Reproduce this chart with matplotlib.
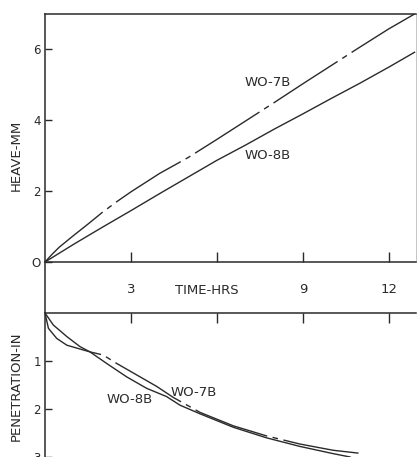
import matplotlib.pyplot as plt
from matplotlib.lines import Line2D

# Heave vs time (top panel)
heave_hours_7b = [0, 0.25, 0.5, 1, 1.5, 2, 2.5, 3, 4, 5, 6, 7, 8, 9, 10, 11, 12, 12.9]
heave_7b = [0, 0.22, 0.42, 0.75, 1.07, 1.4, 1.7, 1.98, 2.5, 2.95, 3.46, 3.98, 4.5, 5.03, 5.55, 6.07, 6.58, 7.0]
heave_hours_8b = [0, 0.5, 1, 2, 3, 4, 5, 6, 7, 8, 9, 10, 11, 12, 12.9]
heave_8b = [0, 0.25, 0.5, 0.98, 1.45, 1.93, 2.4, 2.87, 3.3, 3.75, 4.18, 4.62, 5.05, 5.5, 5.92]

# Penetration vs time (bottom panel)
pen_hours_7b = [0, 0.12, 0.41, 0.76, 1.16, 1.57, 2.03, 2.5, 3.2, 3.9, 4.48, 5.41, 6.57, 7.73, 8.9, 10.06, 11.1]
pen_7b = [0, 0.32, 0.53, 0.67, 0.74, 0.81, 0.875, 1.05, 1.29, 1.53, 1.76, 2.07, 2.35, 2.56, 2.73, 2.86, 2.93]
pen_hours_8b = [0, 0.29, 0.76, 1.22, 1.57, 2.15, 2.85, 3.55, 4.24, 4.71, 5.41, 6.57, 7.73, 8.9, 10.06, 10.65]
pen_8b = [0, 0.25, 0.49, 0.70, 0.81, 1.05, 1.33, 1.57, 1.74, 1.92, 2.1, 2.38, 2.6, 2.78, 2.93, 3.0]

time_ticks = [3, 6, 9, 12]
time_labels = ['3', '', '9', '12']

W, H = 417, 457
ink = '#2a2a2a'
dashdot = (0, (55, 4, 4, 4))

fig = plt.figure(figsize=(W / 100, H / 100), dpi=100)
left, right = 45 / W, 416 / W

# top panel: heave
ax = fig.add_axes([left, 1 - 262 / H, right - left, (262 - 14) / H])
ax.plot(heave_hours_7b, heave_7b, color=ink, lw=1.0, linestyle=dashdot)
ax.plot(heave_hours_8b, heave_8b, color=ink, lw=1.0)
ax.set_xlim(0, 12.95)
ax.set_ylim(0, 7)
ax.set_yticks([0, 2, 4, 6])
ax.set_yticklabels(['O', '2', '4', '6'])
ax.set_xticks(time_ticks)
ax.set_xticklabels(time_labels)
ax.tick_params(axis='y', direction='in', length=5, width=1, pad=3, labelsize=8.5, colors=ink)
ax.tick_params(axis='x', direction='in', length=7, width=1, pad=15, labelsize=9.5, colors=ink)
for s in ['left', 'top', 'bottom']:
    ax.spines[s].set_color(ink)
    ax.spines[s].set_linewidth(1.1)
ax.spines['right'].set_color('#bbbbbb')
ax.spines['right'].set_linewidth(0.6)
ax.set_ylabel('HEAVE-MM', fontsize=9.5, color=ink)
ax.yaxis.set_label_coords(-0.06, 0.43)
ax.set_xlabel('TIME-HRS', fontsize=9.5, color=ink, va='center')
ax.xaxis.set_label_coords(0.435, -0.113)
ax.text(7.78, 5.07, 'WO-7B', fontsize=9.5, color=ink, ha='center', va='center')
ax.text(7.78, 3.01, 'WO-8B', fontsize=9.5, color=ink, ha='center', va='center')

# bottom panel: penetration
bx = fig.add_axes([left, 0, right - left, (H - 313) / H])
bx.plot(pen_hours_7b, pen_7b, color=ink, lw=1.0, linestyle=dashdot)
bx.plot(pen_hours_8b, pen_8b, color=ink, lw=1.0)
bx.set_xlim(0, 12.95)
bx.set_ylim(3, 0)
bx.set_yticks([1, 2, 3])
bx.set_xticks(time_ticks)
bx.tick_params(axis='x', direction='in', length=7, width=1, top=True, bottom=False,
               labeltop=False, labelbottom=False, colors=ink)
bx.tick_params(axis='y', direction='in', length=5, width=1, pad=3, labelsize=8.5, colors=ink)
for s in ['left', 'top']:
    bx.spines[s].set_color(ink)
    bx.spines[s].set_linewidth(1.1)
bx.spines['right'].set_visible(False)
bx.spines['bottom'].set_visible(False)
bx.set_ylabel('PENETRATION-IN', fontsize=9.5, color=ink)
bx.yaxis.set_label_coords(-0.06, 0.49)
bx.text(5.2, 1.65, 'WO-7B', fontsize=9.5, color=ink, ha='center', va='center')
bx.text(2.97, 1.81, 'WO-8B', fontsize=9.5, color=ink, ha='center', va='center')

# left axis line through the time strip
fig.add_artist(Line2D([left, left], [1 - 313 / H, 1 - 262 / H],
                      transform=fig.transFigure, color=ink, lw=1.1))

fig.savefig('out.png', dpi=100)
